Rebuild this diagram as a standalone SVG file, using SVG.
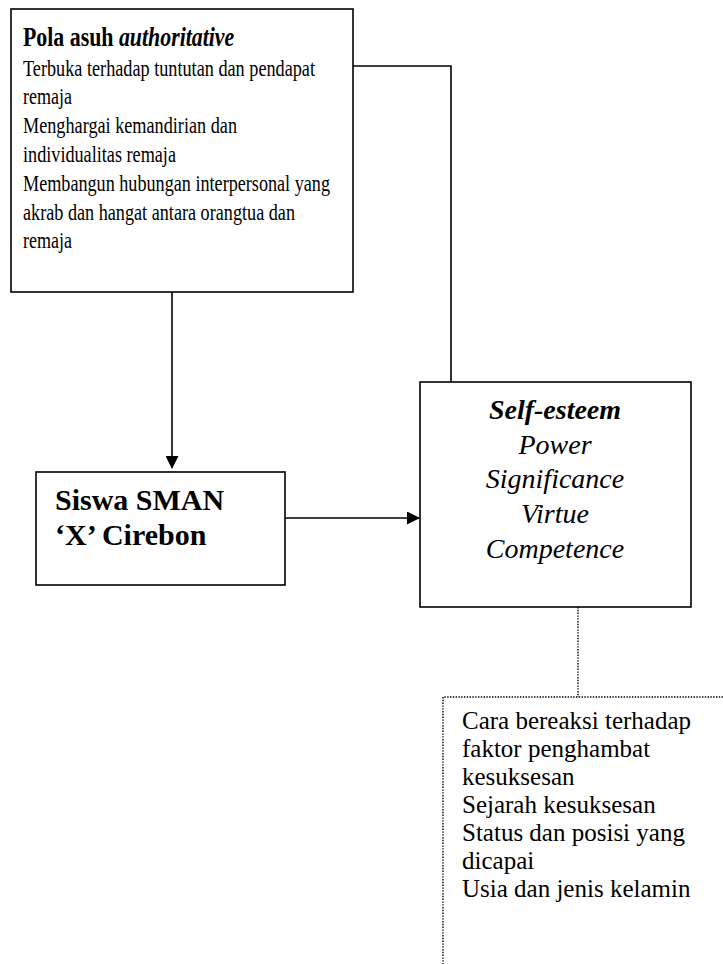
<svg xmlns="http://www.w3.org/2000/svg" width="723" height="964" viewBox="0 0 723 964">
<style>
.box{fill:#fff;stroke:#000;stroke-width:1.6}
.dot{fill:none;stroke:#000;stroke-width:1.4;stroke-dasharray:1.4 1.4}
.ln{fill:none;stroke:#000;stroke-width:1.6}
.t1{font-size:27px;font-weight:bold}
.b1{font-size:22.5px}
.se{font-size:28px;font-style:italic;text-anchor:middle}
.sw{font-size:30px;font-weight:bold}
.ft{font-size:25px}
</style>
<defs>
<marker id="ah" markerWidth="13" markerHeight="13" refX="12" refY="6.5" orient="auto" markerUnits="userSpaceOnUse" viewBox="0 0 13 13">
<path d="M0,0 L13,6.5 L0,13 Z" fill="#000"/>
</marker>
</defs>
<g id="connectors">
<path class="ln" d="M353,66 H451 V382"/>
<path class="ln" d="M172,292 V468" marker-end="url(#ah)"/>
<path class="ln" d="M285,518 H419" marker-end="url(#ah)"/>
<path class="dot" d="M578,607 V697"/>
</g>
<g id="pola" font-family="'Liberation Serif', 'Times New Roman', Tinos, serif" fill="#000">
<rect class="box" x="11" y="9" width="342" height="283"/>
<text class="t1" transform="translate(23,46) scale(0.81,1)" x="0" y="0">Pola asuh <tspan font-style="italic">authoritative</tspan></text>
<text class="b1" x="23" y="76" textLength="292" lengthAdjust="spacingAndGlyphs">Terbuka terhadap tuntutan dan pendapat</text>
<text class="b1" x="23" y="104" textLength="49" lengthAdjust="spacingAndGlyphs">remaja</text>
<text class="b1" x="23" y="133" textLength="214" lengthAdjust="spacingAndGlyphs">Menghargai kemandirian dan</text>
<text class="b1" x="23" y="162" textLength="153" lengthAdjust="spacingAndGlyphs">individualitas remaja</text>
<text class="b1" x="23" y="191" textLength="307" lengthAdjust="spacingAndGlyphs">Membangun hubungan interpersonal yang</text>
<text class="b1" x="23" y="220" textLength="272" lengthAdjust="spacingAndGlyphs">akrab dan hangat antara orangtua dan</text>
<text class="b1" x="23" y="248" textLength="49" lengthAdjust="spacingAndGlyphs">remaja</text>
</g>
<g id="selfesteem" font-family="'Liberation Serif', 'Times New Roman', Tinos, serif" fill="#000">
<rect class="box" x="420" y="382" width="271" height="225"/>
<text class="se" x="555" y="419" font-weight="bold">Self-esteem</text>
<text class="se" x="555" y="454">Power</text>
<text class="se" x="555" y="488">Significance</text>
<text class="se" x="555" y="523">Virtue</text>
<text class="se" x="555" y="558">Competence</text>
</g>
<g id="siswa" font-family="'Liberation Serif', 'Times New Roman', Tinos, serif" fill="#000">
<rect class="box" x="36" y="472" width="249" height="113"/>
<text class="sw" x="55" y="510">Siswa SMAN</text>
<text class="sw" x="55" y="545">‘X’ Cirebon</text>
</g>
<g id="faktor" font-family="'Liberation Serif', 'Times New Roman', Tinos, serif" fill="#000">
<path class="dot" d="M723,697 H443 V964"/>
<text class="ft" x="462" y="729">Cara bereaksi terhadap</text>
<text class="ft" x="462" y="757">faktor penghambat</text>
<text class="ft" x="462" y="785">kesuksesan</text>
<text class="ft" x="462" y="813">Sejarah kesuksesan</text>
<text class="ft" x="462" y="841">Status dan posisi yang</text>
<text class="ft" x="462" y="869">dicapai</text>
<text class="ft" x="462" y="897">Usia dan jenis kelamin</text>
</g>
</svg>
